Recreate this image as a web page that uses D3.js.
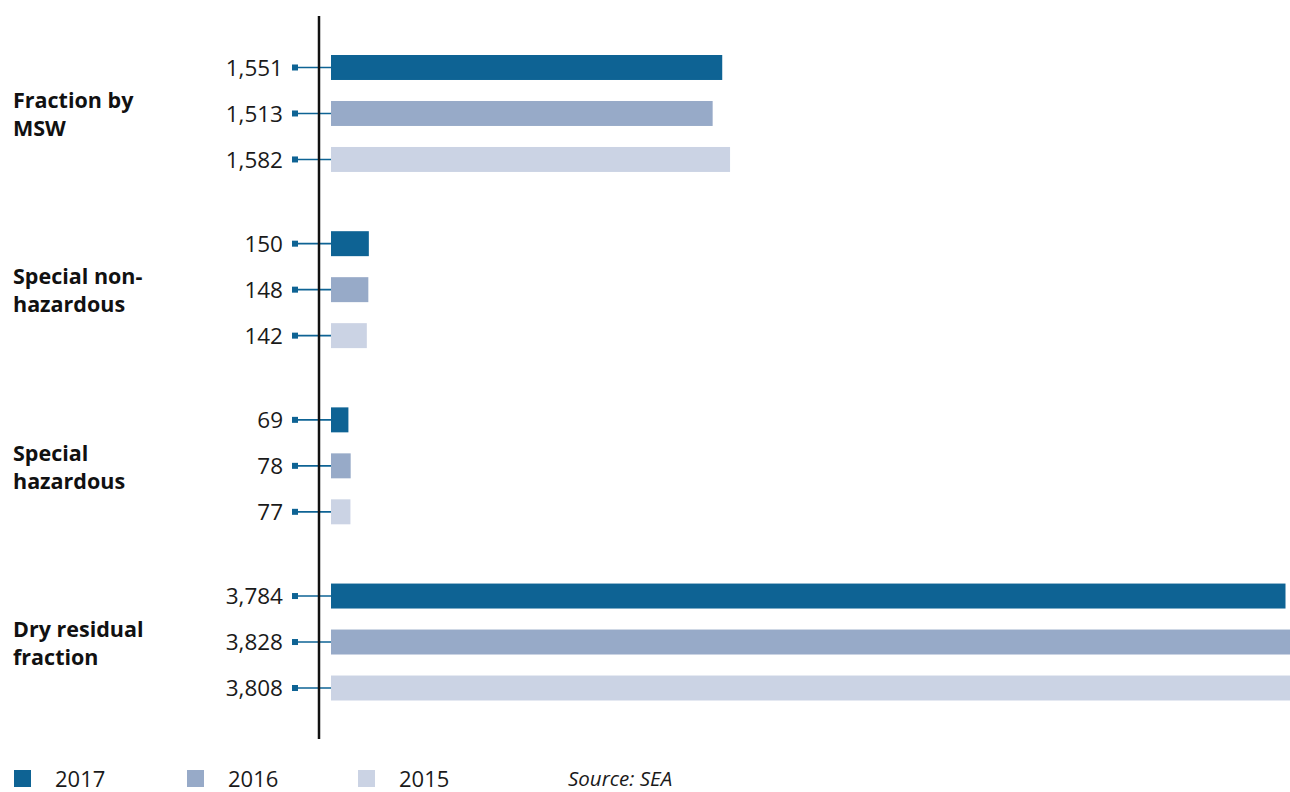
<!DOCTYPE html>
<html>
<head>
<meta charset="utf-8">
<script src="https://cdn.jsdelivr.net/npm/d3@7"></script>
<style>
  html, body { margin: 0; padding: 0; background: #fff; }
  svg { display: block; }
</style>
</head>
<body>
<svg id="chart" width="1290" height="792"></svg>
<script>
// Waste collected by fraction (tonnes), three years
const categories = [
  ["Fraction by", "MSW"],
  ["Special non-", "hazardous"],
  ["Special", "hazardous"],
  ["Dry residual", "fraction"]
];
const years = ["2017", "2016", "2015"];
const values2017 = [1551, 150, 69, 3784];
const values2016 = [1513, 148, 78, 3828];
const values2015 = [1582, 142, 77, 3808];
const colors = ["#0e6394", "#97aac8", "#cbd3e4"];
const sourceNote = "Source: SEA";

const series = [values2017, values2016, values2015];
const fmt = d3.format(",");

const svg = d3.select("#chart");

const catKeys = categories.map((c, i) => i);
const y = d3.scaleBand().domain(catKeys).range([44.5, 711]).paddingInner(0.217).paddingOuter(0);
const yInner = d3.scaleBand().domain(years).range([0, y.bandwidth()])
  .paddingInner(0.457).paddingOuter(0.2285);
const x = d3.scaleLinear().domain([0, 3784]).range([331, 1285.5]);

const axisX = 319;
const labelX = 283;
const markX = 295;

const rows = [];
catKeys.forEach(ci => {
  years.forEach((yr, si) => {
    rows.push({ ci, yr, si, v: series[si][ci] });
  });
});

const g = svg.append("g");

// connectors: small square + line to the bar, with the value label
rows.forEach(d => {
  const cy = y(d.ci) + yInner(d.yr) + yInner.bandwidth() / 2;
  g.append("line")
    .attr("x1", markX).attr("x2", x(0))
    .attr("y1", cy).attr("y2", cy)
    .attr("stroke", "#0e6394").attr("stroke-width", 1.6);
  g.append("rect")
    .attr("x", markX - 3).attr("y", cy - 3)
    .attr("width", 6).attr("height", 6)
    .attr("fill", "#0e6394");
  g.append("text")
    .attr("x", labelX).attr("y", cy)
    .attr("dy", "0.36em")
    .attr("text-anchor", "end")
    .attr("font-family", "'Open Sans', sans-serif")
    .attr("font-size", 22.5)
    .attr("fill", "#1a1a1a")
    .text(fmt(d.v));
});

// bars
g.selectAll("rect.bar").data(rows).enter().append("rect")
  .attr("class", "bar")
  .attr("x", x(0))
  .attr("y", d => y(d.ci) + yInner(d.yr))
  .attr("width", d => x(d.v) - x(0))
  .attr("height", yInner.bandwidth())
  .attr("fill", d => colors[d.si]);

// vertical axis line
g.append("line")
  .attr("x1", axisX).attr("x2", axisX)
  .attr("y1", 16).attr("y2", 739)
  .attr("stroke", "#111").attr("stroke-width", 2.5);

// category labels
catKeys.forEach(ci => {
  const cy = y(ci) + y.bandwidth() / 2;
  const t = g.append("text")
    .attr("x", 13)
    .attr("font-family", "'Open Sans', sans-serif")
    .attr("font-weight", "bold")
    .attr("font-size", 21.5)
    .attr("fill", "#111");
  categories[ci].forEach((line, li) => {
    t.append("tspan")
      .attr("x", 13)
      .attr("y", cy - 13 + li * 28)
      .attr("dy", "0.36em")
      .text(line);
  });
});

// legend
const legendX = [14, 187, 358];
years.forEach((yr, i) => {
  const lg = svg.append("g");
  lg.append("rect")
    .attr("x", legendX[i]).attr("y", 770)
    .attr("width", 17).attr("height", 17)
    .attr("fill", colors[i]);
  lg.append("text")
    .attr("x", legendX[i] + 41).attr("y", 779)
    .attr("dy", "0.36em")
    .attr("font-family", "'Open Sans', sans-serif")
    .attr("font-size", 22)
    .attr("fill", "#1a1a1a")
    .text(yr);
});
svg.append("text")
  .attr("x", 568).attr("y", 779)
  .attr("dy", "0.36em")
  .attr("font-family", "'Open Sans', sans-serif")
  .attr("font-style", "italic")
  .attr("font-size", 20.5)
  .attr("fill", "#1a1a1a")
  .text(sourceNote);
</script>
</body>
</html>
